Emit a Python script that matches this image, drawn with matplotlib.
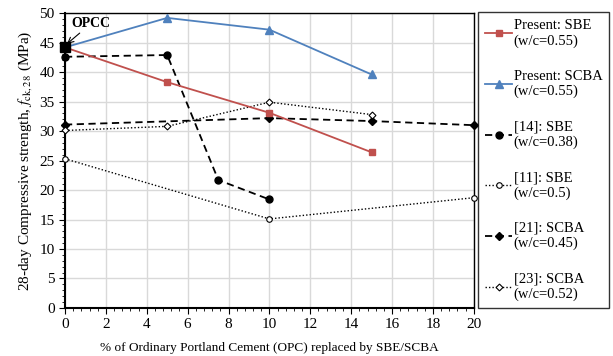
import numpy as np
import matplotlib.pyplot as plt
from matplotlib.ticker import MultipleLocator

plt.rcParams['font.family'] = ['Liberation Serif', 'DejaVu Serif']
plt.rcParams['mathtext.fontset'] = 'stix'

# Данные
x_present = [0, 5, 10, 15]
present_sbe = [44.2, 38.3, 33.1, 26.4]
present_scba = [44.2, 49.2, 47.2, 39.6]

x_14 = [0, 5, 7.5, 10]
ref14_sbe = [42.6, 42.9, 21.7, 18.4]

x_11 = [0, 10, 20]
ref11_sbe = [25.3, 15.1, 18.7]

x_21 = [0, 10, 15, 20]
ref21_scba = [31.1, 32.2, 31.7, 31.0]

x_23 = [0, 5, 10, 15]
ref23_scba = [30.1, 30.8, 34.9, 32.8]

opc_x, opc_y = 0, 44.2

fig = plt.figure(figsize=(6.13, 3.56), dpi=100)
ax = fig.add_axes([0.106, 0.135, 0.667, 0.828])

ax.plot(x_present, present_sbe, color='#C0504D', lw=1.3, marker='s', ms=5,
        label='Present: SBE\n(w/c=0.55)', clip_on=False, zorder=5)
ax.plot(x_present, present_scba, color='#4F81BD', lw=1.3, marker='^', ms=5.5,
        label='Present: SCBA\n(w/c=0.55)', clip_on=False, zorder=5)
ax.plot(x_14, ref14_sbe, color='black', lw=1.3, ls=(0, (4, 2.5)), marker='o', ms=5,
        label='[14]: SBE\n(w/c=0.38)', clip_on=False, zorder=4)
ax.plot(x_11, ref11_sbe, color='black', lw=1.0, ls=(0, (1, 1.5)), marker='o', ms=4,
        mfc='white', mew=0.8, label='[11]: SBE\n(w/c=0.5)', clip_on=False, zorder=4)
ax.plot(x_21, ref21_scba, color='black', lw=1.3, ls=(0, (4, 2.5)), marker='D', ms=4,
        label='[21]: SCBA\n(w/c=0.45)', clip_on=False, zorder=4)
ax.plot(x_23, ref23_scba, color='black', lw=1.0, ls=(0, (1, 1.5)), marker='D', ms=3.5,
        mfc='white', mew=0.8, label='[23]: SCBA\n(w/c=0.52)', clip_on=False, zorder=4)

# точка OPCC
ax.plot([opc_x], [opc_y], marker='s', color='black', ms=7, clip_on=False, zorder=6)
ax.annotate('OPCC', xy=(opc_x + 0.1, opc_y + 0.6), xytext=(0.3, 47.6),
            fontsize=10, fontweight='bold',
            arrowprops=dict(arrowstyle='->', color='black', lw=0.8,
                            shrinkA=0, shrinkB=0))

ax.set_xlim(0, 20)
ax.set_ylim(0, 50)
ax.xaxis.set_major_locator(MultipleLocator(2))
ax.xaxis.set_minor_locator(MultipleLocator(0.4))
ax.yaxis.set_major_locator(MultipleLocator(5))
ax.yaxis.set_minor_locator(MultipleLocator(1))
ax.grid(True, which='major', color='#D9D9D9', lw=1.0)
ax.set_axisbelow(True)
ax.tick_params(which='both', direction='out', labelsize=11)
ax.tick_params(which='major', length=4)
ax.tick_params(which='minor', length=2.5)
for sp in ax.spines.values():
    sp.set_linewidth(1.0)
ax.spines['left'].set_linewidth(1.5)
ax.spines['bottom'].set_linewidth(1.5)

ax.set_xlabel('% of Ordinary Portland Cement (OPC) replaced by SBE/SCBA', fontsize=9.5, labelpad=8)
ax.set_ylabel('28-day Compressive strength, $f_{\\mathrm{ck,28}}$ (MPa)', fontsize=11)

leg = fig.legend(loc='upper left', bbox_to_anchor=(0.78, 0.965), fontsize=10.5,
                 frameon=True, fancybox=False, edgecolor='black', handlelength=1.9,
                 handletextpad=0.1, labelspacing=1.52, borderpad=0.45,
                 borderaxespad=0)
leg.get_frame().set_linewidth(1.0)

fig.savefig('out.png', dpi=100)
